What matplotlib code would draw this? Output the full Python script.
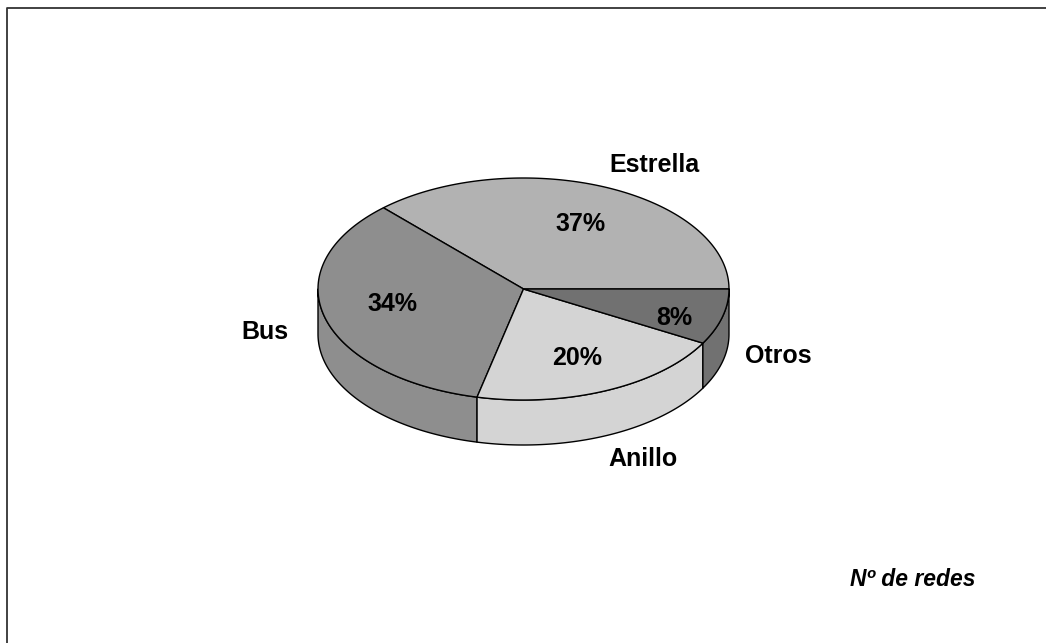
import numpy as np
import matplotlib
matplotlib.use("Agg")
import matplotlib.pyplot as plt

# Datos: porcentaje de redes por topologia
categorias = ["Estrella", "Bus", "Anillo", "Otros"]
valores = [36.9, 34.4, 20.5, 8.1]
etiquetas = ["37%", "34%", "20%", "8%"]
colores = ["#b2b2b2", "#8e8e8e", "#d4d4d4", "#717171"]

plt.rcParams["font.family"] = ["Liberation Sans", "DejaVu Sans"]

W, H = 1046, 643
fig = plt.figure(figsize=(W / 100, H / 100), dpi=100)
ax = fig.add_axes([0, 0, 1, 1])
ax.set_xlim(0, W)
ax.set_ylim(H, 0)
ax.axis("off")

# Geometria del pastel 3D en pixeles
cx, cy = 523.5, 289
rx, ry = 205.5, 111
prof = 45


def borde(a1, a2):
    t = np.radians(np.linspace(a1, a2, 120))
    return cx + rx * np.cos(t), cy - ry * np.sin(t)


# Marco (solo arriba e izquierda)
ax.plot([7, 7, W], [H, 7.5, 7.5], color="#333333", lw=1.3, solid_capstyle="butt", zorder=1)

cortes = np.concatenate([[0], np.cumsum(valores) / np.sum(valores) * 360])

# Paredes laterales: solo la parte frontal (180-360 grados)
for i in range(len(valores)):
    a1 = max(cortes[i], 180)
    a2 = cortes[i + 1]
    if a2 <= a1:
        continue
    x, y = borde(a1, a2)
    ax.fill(np.r_[x, x[::-1]], np.r_[y, y[::-1] + prof], facecolor=colores[i],
            edgecolor="black", lw=1.0, zorder=2, joinstyle="round")

# Cara superior
for i in range(len(valores)):
    x, y = borde(cortes[i], cortes[i + 1])
    ax.fill(np.r_[cx, x], np.r_[cy, y], facecolor=colores[i],
            edgecolor="black", lw=1.0, zorder=3, joinstyle="round")

# Textos
pos_pct = [(581, 224), (392, 304), (577, 358), (674, 318)]
pos_cat = [(654, 165), (265, 332), (643, 459), (778, 356)]
for i in range(len(valores)):
    ax.text(pos_pct[i][0], pos_pct[i][1], etiquetas[i], fontsize=18, fontweight="bold",
            ha="center", va="center", color="black", zorder=4)
    ax.text(pos_cat[i][0], pos_cat[i][1], categorias[i], fontsize=18, fontweight="bold",
            ha="center", va="center", color="black", zorder=4)

ax.text(975, 579, "Nº de redes", fontsize=16.5, fontweight="bold", fontstyle="italic",
        ha="right", va="center", color="black", zorder=4)

fig.savefig("out.png", dpi=100, facecolor="white")
